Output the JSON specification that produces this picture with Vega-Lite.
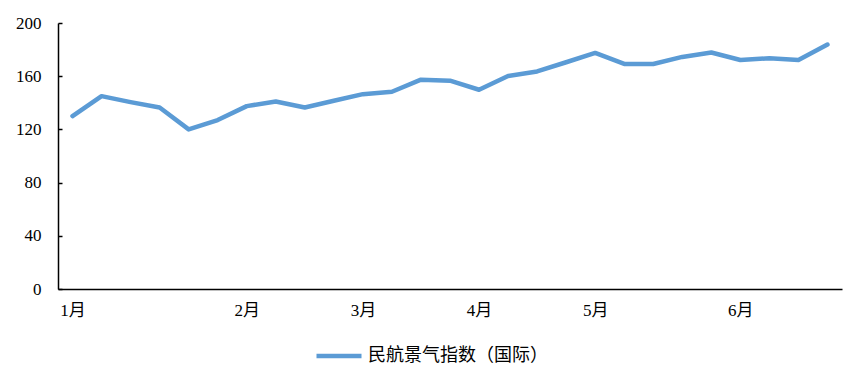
{
  "$schema": "https://vega.github.io/schema/vega-lite/v6.json",
  "width": 784,
  "height": 266,
  "autosize": "none",
  "padding": {"left": 58, "top": 23, "right": 23, "bottom": 95},
  "config": {
    "view": {"stroke": null},
    "font": "Liberation Serif, Noto Sans CJK SC"
  },
  "data": {
    "values": [
      {"week": 1, "value": 130, "series": "民航景气指数（国际）"},
      {"week": 2, "value": 145, "series": "民航景气指数（国际）"},
      {"week": 3, "value": 140.5, "series": "民航景气指数（国际）"},
      {"week": 4, "value": 136.5, "series": "民航景气指数（国际）"},
      {"week": 5, "value": 120, "series": "民航景气指数（国际）"},
      {"week": 6, "value": 127, "series": "民航景气指数（国际）"},
      {"week": 7, "value": 137.5, "series": "民航景气指数（国际）"},
      {"week": 8, "value": 141, "series": "民航景气指数（国际）"},
      {"week": 9, "value": 136.5, "series": "民航景气指数（国际）"},
      {"week": 10, "value": 141.5, "series": "民航景气指数（国际）"},
      {"week": 11, "value": 146.5, "series": "民航景气指数（国际）"},
      {"week": 12, "value": 148.3, "series": "民航景气指数（国际）"},
      {"week": 13, "value": 157.4, "series": "民航景气指数（国际）"},
      {"week": 14, "value": 156.6, "series": "民航景气指数（国际）"},
      {"week": 15, "value": 149.8, "series": "民航景气指数（国际）"},
      {"week": 16, "value": 160.1, "series": "民航景气指数（国际）"},
      {"week": 17, "value": 163.6, "series": "民航景气指数（国际）"},
      {"week": 18, "value": 170.5, "series": "民航景气指数（国际）"},
      {"week": 19, "value": 177.5, "series": "民航景气指数（国际）"},
      {"week": 20, "value": 169.2, "series": "民航景气指数（国际）"},
      {"week": 21, "value": 169.2, "series": "民航景气指数（国际）"},
      {"week": 22, "value": 174.5, "series": "民航景气指数（国际）"},
      {"week": 23, "value": 177.8, "series": "民航景气指数（国际）"},
      {"week": 24, "value": 172.2, "series": "民航景气指数（国际）"},
      {"week": 25, "value": 173.5, "series": "民航景气指数（国际）"},
      {"week": 26, "value": 172.2, "series": "民航景气指数（国际）"},
      {"week": 27, "value": 183.8, "series": "民航景气指数（国际）"}
    ]
  },
  "mark": {"type": "line", "strokeWidth": 4.5, "strokeCap": "round", "strokeJoin": "round"},
  "encoding": {
    "x": {
      "field": "week",
      "type": "quantitative",
      "scale": {"domain": [0.5, 27.5], "nice": false, "zero": false},
      "axis": {
        "title": null,
        "grid": false,
        "ticks": false,
        "values": [1, 7, 11, 15, 19, 24],
        "labelExpr": "datum.value == 1 ? '1月' : datum.value == 7 ? '2月' : datum.value == 11 ? '3月' : datum.value == 15 ? '4月' : datum.value == 19 ? '5月' : '6月'",
        "domainColor": "#000000",
        "domainWidth": 1.5,
        "labelFont": "Liberation Serif, Noto Sans CJK SC",
        "labelFontSize": 17,
        "labelColor": "#000000",
        "labelPadding": 13,
        "labelFlush": false
      }
    },
    "y": {
      "field": "value",
      "type": "quantitative",
      "scale": {"domain": [0, 200], "nice": false},
      "axis": {
        "title": null,
        "grid": false,
        "values": [0, 40, 80, 120, 160, 200],
        "domainColor": "#000000",
        "domainWidth": 1.5,
        "tickColor": "#000000",
        "tickWidth": 1.5,
        "tickSize": -4,
        "labelFont": "Liberation Serif",
        "labelFontSize": 17,
        "labelColor": "#000000",
        "labelPadding": 21
      }
    },
    "color": {
      "field": "series",
      "type": "nominal",
      "scale": {"range": ["#5B9BD5"]},
      "legend": {
        "title": null,
        "orient": "none",
        "legendX": 256,
        "legendY": 308,
        "symbolType": "stroke",
        "symbolSize": 2025,
        "symbolStrokeWidth": 4.5,
        "labelFont": "Noto Sans CJK SC",
        "labelFontSize": 18,
        "labelLimit": 400,
        "labelColor": "#000000",
        "labelOffset": 4
      }
    }
  }
}
